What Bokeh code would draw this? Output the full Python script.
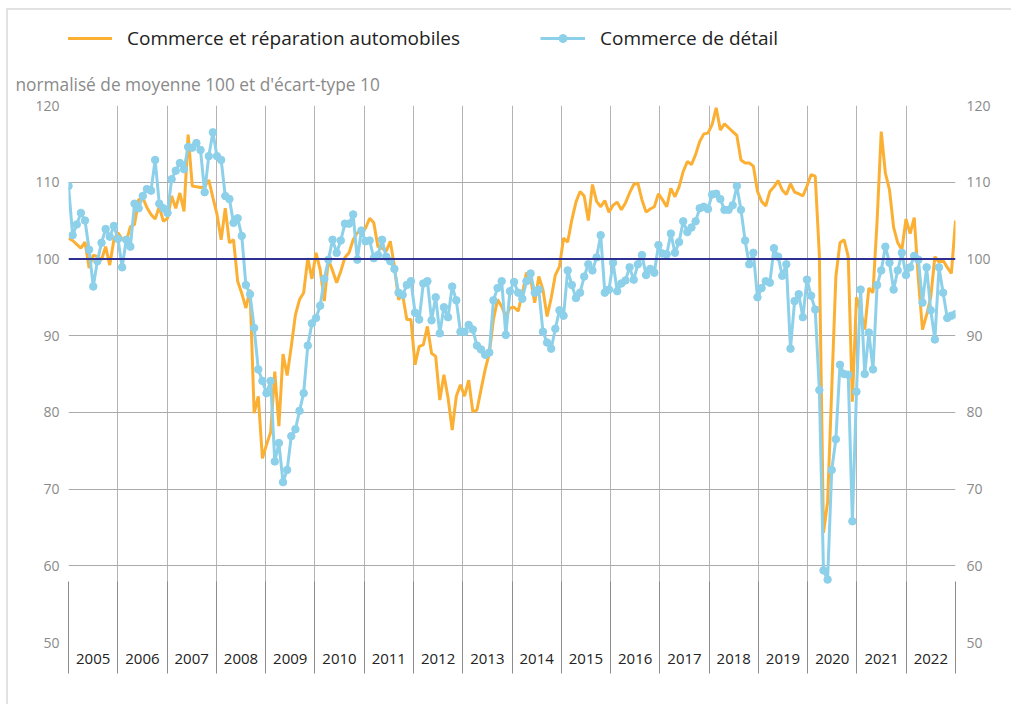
from bokeh.plotting import figure
from bokeh.layouts import column
from bokeh.models import (Range1d, LinearAxis, FixedTicker, Legend, LegendItem,
                          Title, Span)
from bokeh.embed import file_html
from bokeh.resources import INLINE

# ---------------- data ----------------
years = list(range(2005, 2023))
series_auto_name = "Commerce et réparation automobiles"
series_retail_name = "Commerce de détail"
y_title = "normalisé de moyenne 100 et d'écart-type 10"
y_ticks = [50, 60, 70, 80, 90, 100, 110, 120]
reference_level = 100

auto_2005 = [102.7, 102.4, 101.9, 101.4, 102.2, 98.8, 100.5, 100.3, 99.9, 101.6, 99.2, 102.5]
auto_2006 = [103.4, 102.6, 102.3, 104.2, 104.5, 107.7, 108.0, 106.7, 105.8, 105.2, 106.8, 104.9]
auto_2007 = [105.3, 108.2, 106.6, 108.6, 106.2, 116.2, 109.5, 109.4, 109.3, 109.4, 110.3, 108.0]
auto_2008 = [105.8, 102.5, 106.6, 102.1, 102.5, 97.1, 95.5, 93.6, 96.0, 79.9, 82.1, 74.0]
auto_2009 = [75.8, 77.4, 85.3, 78.2, 87.6, 84.8, 88.6, 92.7, 94.7, 95.6, 100.1, 97.4]
auto_2010 = [100.8, 98.6, 94.5, 99.9, 98.5, 96.9, 98.4, 100.2, 100.8, 102.5, 103.4, 103.5]
auto_2011 = [104.0, 105.3, 104.7, 101.6, 101.4, 101.0, 102.3, 99.0, 94.7, 95.3, 92.1, 92.1]
auto_2012 = [86.2, 88.6, 88.8, 91.2, 87.7, 87.3, 81.6, 84.9, 81.9, 77.7, 82.1, 83.6]
auto_2013 = [82.1, 84.2, 80.1, 80.3, 83.0, 85.6, 87.7, 92.1, 94.7, 93.8, 92.5, 93.6]
auto_2014 = [93.7, 93.2, 95.5, 98.2, 97.5, 94.3, 97.7, 96.0, 92.5, 94.9, 97.9, 99.0]
auto_2015 = [102.7, 102.2, 105.1, 107.4, 108.8, 108.2, 105.0, 109.7, 107.5, 106.8, 107.6, 106.1]
auto_2016 = [107.0, 107.4, 106.4, 107.3, 108.6, 109.7, 109.9, 107.7, 106.1, 106.5, 106.8, 108.5]
auto_2017 = [107.7, 106.8, 109.2, 108.1, 109.4, 111.4, 112.7, 112.3, 113.6, 115.3, 116.3, 116.4]
auto_2018 = [117.5, 119.7, 116.8, 117.6, 117.1, 116.6, 116.1, 112.9, 112.5, 112.5, 112.1, 108.8]
auto_2019 = [107.5, 106.9, 108.8, 109.4, 110.2, 109.0, 108.4, 109.8, 108.7, 108.5, 108.2, 109.5]
auto_2020 = [111.0, 110.8, 100.5, 64.3, 68.3, 83.0, 97.7, 102.1, 102.5, 100.3, 81.4, 95.0]
auto_2021 = [93.2, 90.8, 96.2, 95.6, 105.0, 116.6, 111.2, 109.0, 104.1, 102.1, 101.2, 105.2]
auto_2022 = [103.3, 105.4, 97.3, 90.8, 92.7, 95.0, 100.3, 99.6, 99.8, 98.9, 98.1, 105.0]

retail_2005 = [109.5, 103.1, 104.5, 106.0, 105.0, 101.2, 96.4, 99.7, 102.1, 103.9, 102.9, 104.3]
retail_2006 = [102.6, 98.9, 102.5, 101.6, 107.2, 106.6, 108.2, 109.1, 108.9, 112.9, 107.2, 106.6]
retail_2007 = [106.0, 110.4, 111.5, 112.5, 111.7, 114.6, 114.5, 115.1, 114.2, 108.7, 113.4, 116.5]
retail_2008 = [113.4, 112.9, 108.2, 107.8, 104.7, 105.3, 103.0, 96.6, 95.4, 91.0, 85.6, 84.1]
retail_2009 = [82.5, 84.1, 73.6, 76.0, 70.9, 72.5, 76.9, 77.8, 80.2, 82.5, 88.7, 91.6]
retail_2010 = [92.3, 93.9, 97.4, 99.9, 102.5, 100.8, 102.4, 104.6, 104.6, 105.8, 99.9, 103.7]
retail_2011 = [102.3, 102.4, 100.1, 100.5, 102.5, 100.3, 99.7, 98.7, 95.6, 95.3, 96.6, 97.1]
retail_2012 = [93.0, 92.1, 96.8, 97.1, 92.0, 95.0, 90.3, 93.7, 92.4, 96.4, 94.6, 90.5]
retail_2013 = [90.5, 91.4, 90.8, 88.7, 88.2, 87.5, 87.8, 94.6, 96.2, 97.1, 90.1, 95.8]
retail_2014 = [97.0, 95.6, 94.8, 97.1, 98.1, 95.6, 96.0, 90.5, 89.1, 88.3, 90.9, 93.3]
retail_2015 = [92.6, 98.5, 96.6, 94.9, 95.6, 97.7, 99.3, 98.5, 100.2, 103.1, 95.6, 96.0]
retail_2016 = [99.5, 95.8, 96.8, 97.2, 98.9, 97.3, 99.3, 100.5, 97.9, 98.7, 98.2, 101.8]
retail_2017 = [100.7, 100.6, 103.3, 100.8, 102.2, 104.9, 103.5, 104.1, 104.9, 106.6, 106.8, 106.5]
retail_2018 = [108.4, 108.5, 107.8, 106.4, 106.4, 107.0, 109.5, 106.4, 102.4, 99.3, 100.8, 95.0]
retail_2019 = [96.2, 97.1, 96.9, 101.4, 100.3, 97.8, 99.3, 88.3, 94.5, 95.4, 92.4, 97.3]
retail_2020 = [95.2, 93.4, 82.9, 59.4, 58.2, 72.5, 76.5, 86.2, 85.0, 84.9, 65.8, 82.7]
retail_2021 = [96.0, 85.0, 90.4, 85.6, 96.6, 98.5, 101.6, 99.5, 96.0, 98.5, 100.8, 97.9]
retail_2022 = [98.9, 100.4, 99.9, 94.3, 98.9, 93.3, 89.5, 98.9, 95.6, 92.3, 92.6, 92.8]

auto = (auto_2005 + auto_2006 + auto_2007 + auto_2008 + auto_2009 + auto_2010 +
        auto_2011 + auto_2012 + auto_2013 + auto_2014 + auto_2015 + auto_2016 +
        auto_2017 + auto_2018 + auto_2019 + auto_2020 + auto_2021 + auto_2022)
retail = (retail_2005 + retail_2006 + retail_2007 + retail_2008 + retail_2009 +
          retail_2010 + retail_2011 + retail_2012 + retail_2013 + retail_2014 +
          retail_2015 + retail_2016 + retail_2017 + retail_2018 + retail_2019 +
          retail_2020 + retail_2021 + retail_2022)

# ---------------- styling / layout ----------------
FONT = "Open Sans"
ORANGE = "#FBB034"
BLUE = "#8DD0EA"
NAVY = "#2E3192"
FRAME_W, FRAME_H = 887, 537
BORDER_L, BORDER_R, BORDER_B = 60, 56, 62
LEG_H = 49
TOP_MAIN = 95 - LEG_H
FIG_W = FRAME_W + BORDER_L + BORDER_R

n = len(retail)
x0, x1 = years[0], years[-1] + 1
xs = [x0 + i * (x1 - x0) / (n - 1) for i in range(n)]
boundaries = list(range(x0, x1 + 1))
centers = [y + 0.5 for y in years]

p = figure(frame_width=FRAME_W, frame_height=FRAME_H,
           min_border_left=BORDER_L, min_border_right=BORDER_R,
           min_border_top=TOP_MAIN, min_border_bottom=BORDER_B,
           x_range=Range1d(x0, x1), y_range=Range1d(y_ticks[0], y_ticks[-1]),
           output_backend="svg", toolbar_location=None,
           background_fill_color="white", border_fill_color="white")
p.outline_line_color = None

# grid
p.ygrid.ticker = FixedTicker(ticks=y_ticks)
p.ygrid.grid_line_color = "#ababab"
p.ygrid.grid_line_width = 1
p.xgrid.ticker = FixedTicker(ticks=boundaries)
p.xgrid.grid_line_color = "#b4b4b4"
p.xgrid.grid_line_width = 1

# y axes (left and right)
p.yaxis.ticker = FixedTicker(ticks=y_ticks)
right_axis = LinearAxis(ticker=FixedTicker(ticks=y_ticks))
p.add_layout(right_axis, "right")
for ax, sto in [(p.yaxis[0], 9), (right_axis, 11)]:
    ax.axis_line_color = None
    ax.major_tick_line_color = None
    ax.minor_tick_line_color = None
    ax.major_tick_in = 0
    ax.major_tick_out = 0
    ax.minor_tick_in = 0
    ax.minor_tick_out = 0
    ax.major_label_text_color = "#8a8a8a"
    ax.major_label_text_font = FONT
    ax.major_label_text_font_size = "14px"
    ax.major_label_standoff = sto

# x axis: year labels centred, separators at year boundaries
xa = p.xaxis[0]
xa.ticker = FixedTicker(ticks=centers, minor_ticks=boundaries)
xa.major_label_overrides = {c: str(y) for c, y in zip(centers, years)}
xa.axis_line_color = None
xa.major_tick_line_color = None
xa.major_tick_in = 0
xa.major_tick_out = 0
xa.minor_tick_line_color = "#8c8c8c"
xa.minor_tick_in = 61
xa.minor_tick_out = 31
xa.major_label_standoff = -20
xa.major_label_text_font = FONT
xa.major_label_text_font_size = "15px"
xa.major_label_text_color = "#222222"

# reference line at 100
p.add_layout(Span(location=reference_level, dimension="width",
                  line_color=NAVY, line_width=2))

# series
l_auto = p.line(xs, auto, line_color=ORANGE, line_width=3)
l_ret = p.line(xs, retail, line_color=BLUE, line_width=3)
s_ret = p.scatter(xs, retail, size=7.5, fill_color=BLUE, line_color=BLUE)

# unit title above the plot
t = Title(text=y_title, align="left", offset=-53, text_font=FONT,
          text_font_size="17.3px", text_font_style="normal", text_color="#8a8a8a",
          standoff=20)
p.add_layout(t, "above")

# ---------------- legend strip ----------------
# proxy renderers carry the same series; they fall outside this strip's ranges
pl = figure(width=FIG_W, height=LEG_H, min_border=0,
            x_range=Range1d(0, 1), y_range=Range1d(0, 1),
            x_axis_type=None, y_axis_type=None,
            output_backend="svg", toolbar_location=None,
            background_fill_color="white", border_fill_color="white")
pl.outline_line_color = None
pl.xgrid.visible = False
pl.ygrid.visible = False
k_auto = pl.line(xs, auto, line_color=ORANGE, line_width=3)
k_ret = pl.line(xs, retail, line_color=BLUE, line_width=3)
k_ret_s = pl.scatter(xs, retail, size=7.5, fill_color=BLUE, line_color=BLUE)
legend = Legend(items=[LegendItem(label=series_auto_name, renderers=[k_auto]),
                       LegendItem(label=series_retail_name, renderers=[k_ret, k_ret_s])],
                orientation="horizontal", location=(-1, 8),
                glyph_width=45, glyph_height=20, label_standoff=15, spacing=80,
                padding=0, margin=0, border_line_color=None,
                background_fill_alpha=0, label_text_font=FONT,
                label_text_font_size="19px", label_text_color="#222222")
pl.add_layout(legend, "center")

layout = column(pl, p, spacing=0, margin=(8, 0, 0, 6),
                styles={"border-left": "2px solid #e2e2e2",
                        "border-top": "2px solid #e2e2e2"})
open("out.html", "w").write(file_html(layout, INLINE))
